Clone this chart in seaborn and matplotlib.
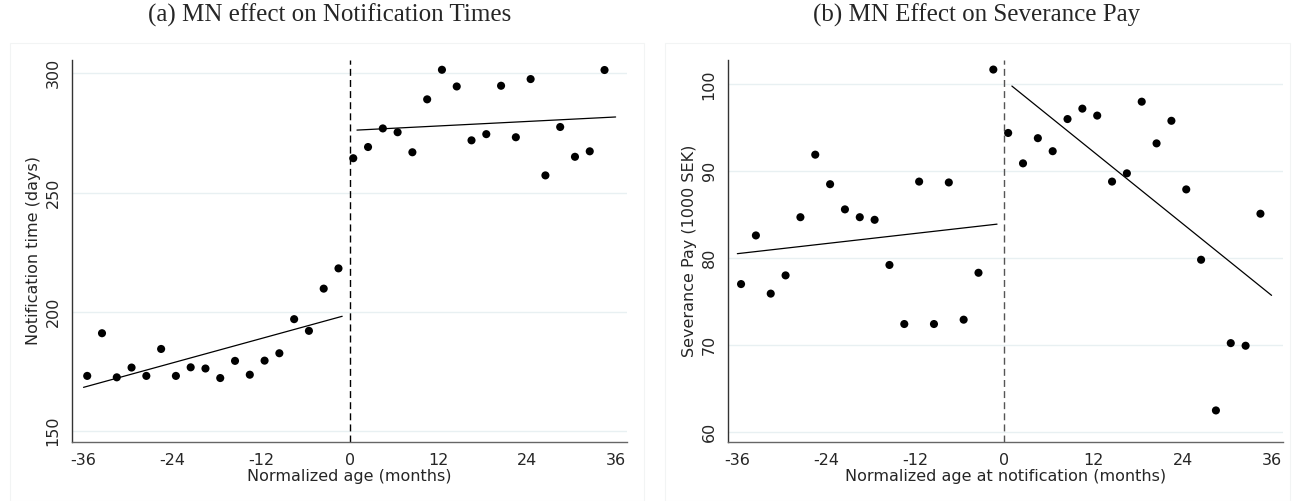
import matplotlib
matplotlib.use("Agg")
import matplotlib.pyplot as plt
import seaborn as sns
from matplotlib.patches import Rectangle

# binned means (x = normalized age in months)
pre_months = [-35.5, -33.5, -31.5, -29.5, -27.5, -25.5, -23.5, -21.5, -19.5,
              -17.5, -15.5, -13.5, -11.5, -9.5, -7.5, -5.5, -3.5, -1.5]
post_months = [0.5, 2.5, 4.5, 6.5, 8.5, 10.5, 12.5, 14.5, 16.5,
               18.5, 20.5, 22.5, 24.5, 26.5, 28.5, 30.5, 32.5, 34.5]

notif_pre = [173.1, 191.0, 172.5, 176.6, 173.1, 184.4, 173.1, 176.7, 176.2,
             172.2, 179.4, 173.6, 179.5, 182.6, 196.9, 192.0, 209.7, 218.2]
notif_post = [264.4, 269.1, 276.9, 275.3, 266.9, 289.1, 301.5, 294.5, 271.9,
              274.5, 294.8, 273.2, 297.6, 257.2, 277.5, 265.0, 267.3, 301.4]

sev_pre = [77.0, 82.6, 75.9, 78.0, 84.7, 91.9, 88.5, 85.6, 84.7,
           84.4, 79.2, 72.4, 88.8, 72.4, 88.7, 72.9, 78.3, 101.7]
sev_post = [94.4, 90.9, 93.8, 92.3, 96.0, 97.2, 96.4, 88.8, 89.75,
            98.0, 93.2, 95.8, 87.9, 79.8, 62.45, 70.2, 69.9, 85.1]

# linear fit endpoints on each side of the cutoff
fit_pre_x = [-36.0, -1.0]
fit_post_x = [1.0, 36.0]
notif_fit_pre = [168.3, 198.1]
notif_fit_post = [276.2, 281.7]
sev_fit_pre = [80.5, 83.9]
sev_fit_post = [99.8, 75.7]

x_ticks = [-36, -24, -12, 0, 12, 24, 36]

sns.set_theme(style="white")
plt.rcParams["font.family"] = ["DejaVu Sans"]

fig = plt.figure(figsize=(12.94, 5.01), dpi=100)

# faint panel frames
for x0, w in [(10, 634), (665, 625)]:
    fig.patches.append(Rectangle((x0 / 1294, 0), w / 1294, 1 - 43 / 501,
                                 transform=fig.transFigure, fill=False,
                                 edgecolor="#f2f4f4", lw=0.8))

ax1 = fig.add_axes([71.7 / 1294, 1 - 441.7 / 501, 555 / 1294, 381.7 / 501])
ax2 = fig.add_axes([727.7 / 1294, 1 - 441.7 / 501, 555 / 1294, 381.7 / 501])


def draw_panel(ax, pre, post, fit_pre, fit_post, yticks, ylim, xlim, ylabel, xlabel, cut_color):
    ax.yaxis.grid(True, color="#e8f0f2", lw=1.0)
    ax.set_axisbelow(True)
    ax.axvline(0, color=cut_color, ls=(0, (5, 3)), lw=1.0)
    sns.scatterplot(x=pre_months + post_months, y=pre + post, ax=ax,
                    color="black", s=34, edgecolor="none", zorder=3)
    sns.lineplot(x=fit_pre_x, y=fit_pre, ax=ax, color="black", lw=0.9)
    sns.lineplot(x=fit_post_x, y=fit_post, ax=ax, color="black", lw=0.9)
    ax.set_xlim(*xlim)
    ax.set_ylim(*ylim)
    ax.set_xticks(x_ticks)
    ax.set_xticklabels([str(t) for t in x_ticks])
    ax.set_yticks(yticks)
    ax.set_yticklabels([str(t) for t in yticks], rotation=90, va="center")
    ax.tick_params(axis="both", direction="out", length=5, width=0.8,
                   color="#555555", labelsize=11.5, pad=3)
    for side in ["top", "right"]:
        ax.spines[side].set_visible(False)
    ax.spines["left"].set_color("#333333")
    ax.spines["bottom"].set_color("#666666")
    ax.spines["left"].set_linewidth(1.0)
    ax.spines["bottom"].set_linewidth(1.0)
    ax.set_ylabel(ylabel, fontsize=11.5, labelpad=3)
    ax.set_xlabel(xlabel, fontsize=11.5, labelpad=1)


draw_panel(ax1, notif_pre, notif_post, notif_fit_pre, notif_fit_post,
           [150, 200, 250, 300], (145.5, 305.6), (-37.6, 37.5),
           "Notification time (days)", "Normalized age (months)", "black")
draw_panel(ax2, sev_pre, sev_post, sev_fit_pre, sev_fit_post,
           [60, 70, 80, 90, 100], (58.85, 102.8), (-37.3, 37.5),
           "Severance Pay (1000 SEK)", "Normalized age at notification (months)", "#555555")

fig.text(329.5 / 1294, 1 - 15 / 501, "(a) MN effect on Notification Times",
         ha="center", va="center", fontsize=18, family=["Liberation Serif"])
fig.text(977 / 1294, 1 - 15 / 501, "(b) MN Effect on Severance Pay",
         ha="center", va="center", fontsize=18, family=["Liberation Serif"])

fig.savefig("out.png", dpi=100)
